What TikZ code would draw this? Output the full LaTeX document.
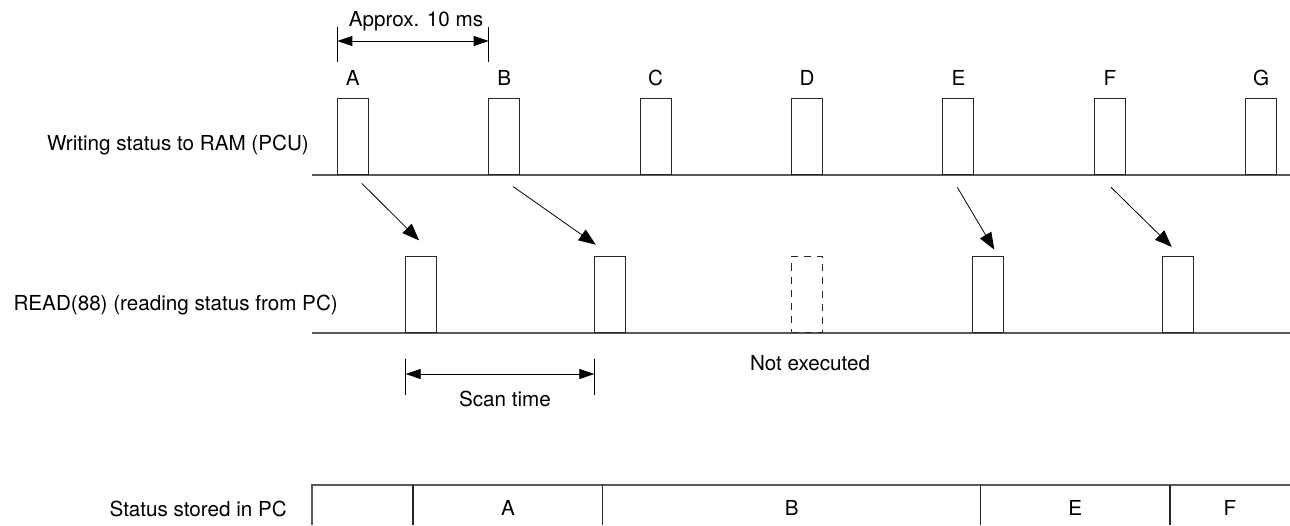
\documentclass[tikz,border=0pt]{standalone}
\usepackage{fontspec}
\setmainfont{TeX Gyre Heros}
\usetikzlibrary{arrows.meta}
\begin{document}
\begin{tikzpicture}[x=0.02cm, y=-0.02cm, font=\fontsize{11.75}{14}\selectfont, line join=miter,
pulse/.style={draw=black!85, fill=white, line width=0.6pt, minimum width=0.62cm, minimum height=1.52cm, inner sep=0pt, anchor=south},
ghost/.style={pulse, dash pattern=on 4pt off 3.5pt},
axis/.style={draw=black!65, line width=0.9pt},
flow/.style={-{Triangle[length=3.4mm,width=2.6mm]}, line width=0.45pt},
dim/.style={{Triangle[length=3mm,width=2mm]}-{Triangle[length=3mm,width=2mm]}, line width=0.45pt}]
\useasboundingbox (0,0) rectangle (1290,525);
\path
(312,175) coordinate (W0)
(1290,175) coordinate (W1)
(312,333) coordinate (R0)
(1290,333) coordinate (R1)
(337.3,41) coordinate (ms0)
(488.7,41) coordinate (ms1)
(405.7,374) coordinate (sc0)
(594.3,374) coordinate (sc1)
;
\draw[axis] (W0)--(W1) (R0)--(R1);
\foreach \n/\x in {A/352.8, B/504.2, C/655.6, D/807, E/958.4, F/1109.8, G/1261.2}
{\node[pulse] (w\n) at (\x,175) {};
\node[anchor=base] (l\n) at (\x,85) {\n};}
\foreach \n/\x in {A/421, B/609.6, E/988.2, F/1177.6}
\node[pulse] (r\n) at (\x,333) {};
\node[ghost] (rD) at (807,333) {};
\draw[flow] ([shift={(8.9,8.3)}]wA.south) -- ([shift={(-1.9,-15.6)}]rA.north);
\draw[flow] ([shift={(9.1,11.7)}]wB.south) -- ([shift={(-13.8,-11.3)}]rB.north);
\draw[flow] ([shift={(-1.1,12.3)}]wE.south) -- ([shift={(6.1,-6.3)}]rE.north);
\draw[flow] ([shift={(1.2,12.3)}]wF.south) -- ([shift={(-5.8,-9)}]rF.north);
\draw[line width=0.45pt] (ms0) ++(0,-14) -- ++(0,35) (ms1) ++(0,-14) -- ++(0,35)
(sc0) ++(0,-15) -- ++(0,36) (sc1) ++(0,-15) -- ++(0,36);
\draw[dim] (ms0) -- (ms1);
\draw[dim] (sc0) -- (sc1);
\node[anchor=base] (approx) at (416,26.7) {Approx. 10 ms};
\node[anchor=base] (scan) at (505,406) {Scan time};
\node[anchor=base] (notex) at (810,370) {Not executed};
\node[anchor=base east] (writing) at (315,150.5) {Writing status to RAM (PCU)};
\node[anchor=base east] (reading) at (344,310) {READ(88) (reading status from PC)};
\node[anchor=base east] (stored) at (293,516) {Status stored in PC};
\draw[axis] (312,525) -- (312,485) -- (1290,485);
\foreach \x in {413,602.7,980.7,1170}
\draw[black!85, line width=0.6pt] (\x,485) -- (\x,525);
\foreach \t/\x in {A/508, B/791.8, E/1075.3, F/1230}
\node[anchor=base] (s\t) at (\x,515.7) {\t};
\end{tikzpicture}
\end{document}
